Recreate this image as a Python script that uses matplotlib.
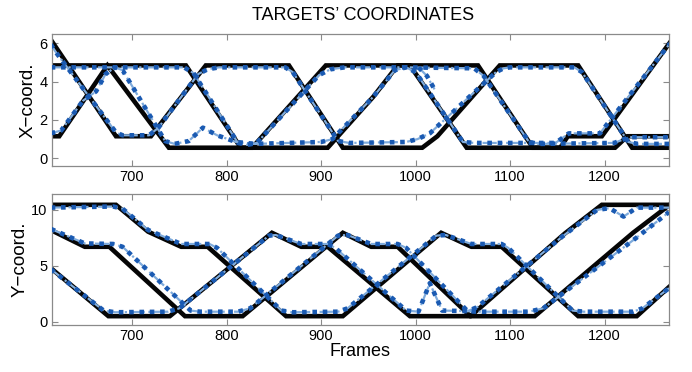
import matplotlib
matplotlib.use('Agg')
import matplotlib.pyplot as plt
import matplotlib as mpl

mpl.rcParams['font.family'] = ['Liberation Sans', 'DejaVu Sans']
mpl.rcParams['axes.unicode_minus'] = True

# ---- ground truth, X coordinate (three targets) ----
x_t1_f = [614, 683, 720, 778, 866, 923, 1007, 1023, 1089, 1172, 1229, 1269]
x_t1_v = [6.2, 1.15, 1.15, 4.85, 4.85, 0.55, 0.55, 1.15, 4.85, 4.85, 0.55, 0.55]
x_t2_f = [614, 757, 815, 827, 905, 994, 1054, 1153, 1161, 1197, 1269]
x_t2_v = [4.85, 4.85, 0.55, 0.55, 4.85, 4.85, 0.55, 0.55, 1.15, 1.15, 6.05]
x_t3_f = [614, 623, 674, 739, 907, 955, 981, 1066, 1124, 1211, 1224, 1269]
x_t3_v = [1.15, 1.15, 4.85, 0.55, 0.55, 3.2, 4.85, 4.85, 0.55, 0.55, 1.15, 1.15]

# ---- estimated tracks, X coordinate ----
x_e1_f = [614, 620, 683, 690, 718, 728, 770, 780, 792, 862, 870, 918, 930, 990,
          1002, 1015, 1085, 1093, 1100, 1168, 1176, 1225, 1235, 1269]
x_e1_v = [5.95, 5.5, 1.35, 1.2, 1.2, 1.6, 4.4, 4.65, 4.75, 4.75, 4.5, 0.9, 0.8, 0.85,
          1.0, 1.3, 4.5, 4.7, 4.75, 4.75, 4.5, 0.85, 0.75, 0.75]
x_e2_f = [614, 755, 765, 812, 822, 832, 898, 910, 925, 990, 1000, 1050, 1062,
          1148, 1162, 1195, 1269]
x_e2_v = [4.75, 4.75, 4.45, 0.8, 0.7, 0.8, 4.35, 4.65, 4.75, 4.75, 4.5, 0.85, 0.8,
          0.8, 1.3, 1.3, 6.0]
x_e3_f = [614, 625, 648, 662, 672, 682, 690, 735, 745, 760, 775, 790, 810, 830, 900,
          912, 955, 978, 990, 1062, 1072, 1120, 1130, 1210, 1226, 1269]
x_e3_v = [1.3, 1.45, 3.0, 3.5, 4.4, 4.75, 4.6, 0.9, 0.75, 0.9, 1.6, 1.2, 0.85, 0.75, 0.85,
          1.0, 3.2, 4.6, 4.75, 4.7, 4.3, 0.85, 0.75, 0.8, 1.1, 1.1]
x_spur_f = [1003, 1012, 1020]
x_spur_v = [4.75, 4.3, 3.6]

# ---- ground truth, Y coordinate ----
y_t1_f = [614, 683, 717, 752, 780, 863, 923, 1027, 1059, 1091, 1172, 1234, 1268]
y_t1_v = [10.45, 10.45, 8.05, 6.7, 6.7, 0.5, 0.5, 7.95, 6.7, 6.7, 0.5, 0.5, 3.1]
y_t2_f = [614, 650, 676, 756, 817, 923, 953, 981, 1058, 1126, 1230, 1268]
y_t2_v = [8.2, 6.7, 6.7, 0.5, 0.5, 7.95, 6.7, 6.7, 0.5, 0.5, 7.95, 10.4]
y_t3_f = [614, 675, 740, 848, 879, 907, 994, 1058, 1158, 1197, 1268]
y_t3_v = [4.8, 0.5, 0.5, 7.95, 6.7, 6.7, 0.5, 0.5, 7.9, 10.45, 10.45]

# ---- estimated tracks, Y coordinate ----
y_e1_f = [614, 680, 690, 717, 752, 782, 790, 858, 870, 918, 928, 1022, 1032, 1059,
          1091, 1098, 1166, 1178, 1230, 1240, 1268]
y_e1_v = [10.2, 10.3, 10.1, 8.2, 6.95, 6.95, 6.6, 1.0, 0.85, 0.9, 1.2, 7.7, 7.75, 6.95,
          6.95, 6.6, 1.0, 0.9, 0.9, 1.2, 3.0]
y_e2_f = [614, 650, 680, 690, 762, 772, 812, 825, 918, 928, 953, 981, 990, 1055, 1065,
          1120, 1135, 1235, 1268]
y_e2_v = [8.3, 7.0, 6.95, 6.7, 1.0, 0.9, 0.9, 1.2, 7.7, 7.75, 6.95, 6.95, 6.6, 0.95, 0.9,
          0.9, 1.2, 7.6, 9.8]
y_e3_f = [614, 670, 682, 738, 750, 845, 852, 879, 907, 915, 990, 1003, 1015, 1028, 1055,
          1065, 1155, 1192, 1205, 1214, 1220, 1234, 1268]
y_e3_v = [4.7, 1.0, 0.85, 0.9, 1.2, 7.7, 7.75, 6.95, 6.95, 6.6, 1.0, 0.9, 3.45, 1.0, 0.95,
          1.3, 7.6, 10.0, 10.15, 9.7, 9.4, 10.2, 10.2]

frame_ticks = [700, 800, 900, 1000, 1100, 1200]

TRUE_C = '#050505'
EST_DARK = '#1a5ab2'
EST_LIGHT = '#7fabdc'
FRAME_C = '#8a8a8a'


def draw_tracks(ax, truth, est):
    for f, v in truth:
        ax.plot(f, v, color=TRUE_C, lw=3.3, solid_joinstyle='miter', zorder=2)
    for f, v in est:
        ax.plot(f, v, color=EST_LIGHT, lw=1.6, ls='-.', zorder=3)
        ax.plot(f, v, color=EST_DARK, lw=3.3, ls=(0, (1, 1.25)),
                dash_capstyle='butt', zorder=4)


def style_axes(ax, ylim, yticks, ylabel):
    ax.set_xlim(615, 1268)
    ax.set_ylim(*ylim)
    ax.set_xticks(frame_ticks)
    ax.set_yticks(yticks)
    ax.tick_params(direction='in', top=True, right=True, length=4, width=0.8,
                   color=FRAME_C, labelsize=10.5, pad=3)
    for s in ax.spines.values():
        s.set_color(FRAME_C)
        s.set_linewidth(0.9)
    ax.set_ylabel(ylabel, fontsize=13.5, labelpad=2)


fig = plt.figure(figsize=(6.92, 3.72), dpi=100)
ax1 = fig.add_axes([0.0747, 0.554, 0.892, 0.355])
ax2 = fig.add_axes([0.0747, 0.126, 0.892, 0.352])

draw_tracks(ax1,
            [(x_t1_f, x_t1_v), (x_t2_f, x_t2_v), (x_t3_f, x_t3_v)],
            [(x_e1_f, x_e1_v), (x_e2_f, x_e2_v), (x_e3_f, x_e3_v), (x_spur_f, x_spur_v)])
style_axes(ax1, (-0.4, 6.5), [0, 2, 4, 6], 'X\u2212coord.')

draw_tracks(ax2,
            [(y_t1_f, y_t1_v), (y_t2_f, y_t2_v), (y_t3_f, y_t3_v)],
            [(y_e1_f, y_e1_v), (y_e2_f, y_e2_v), (y_e3_f, y_e3_v)])
style_axes(ax2, (-0.3, 11.4), [0, 5, 10], 'Y\u2212coord.')
ax2.set_xlabel('Frames', fontsize=13, labelpad=0)

fig.text(0.524, 1 - 20 / 372, 'TARGETS\u2019 COORDINATES', ha='center', va='baseline',
         fontsize=13)

fig.savefig('out.png', dpi=100)
